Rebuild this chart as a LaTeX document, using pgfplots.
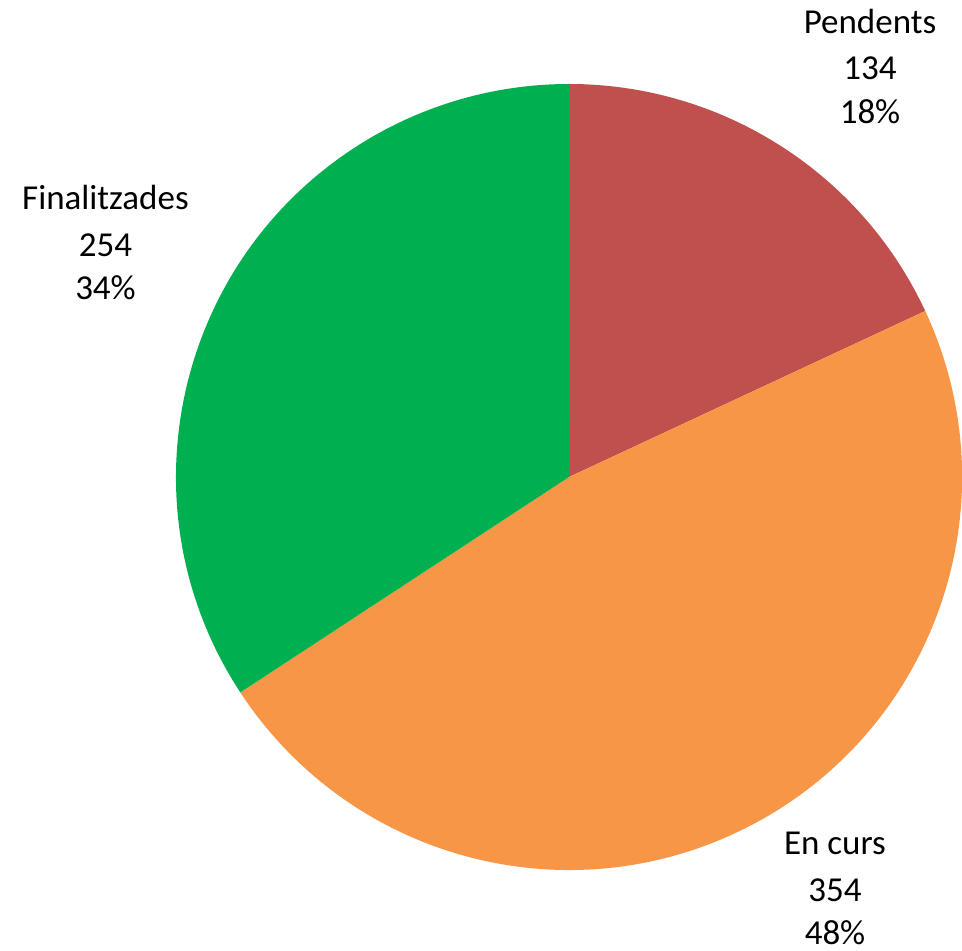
\documentclass[border=0pt]{standalone}
\usepackage{pgfplots}
\pgfplotsset{compat=1.18}
\usepackage{pgfplotstable}
\usepackage{fontspec}
\setmainfont{Carlito}
\definecolor{cPend}{HTML}{C0504D}
\definecolor{cCurs}{HTML}{F79646}
\definecolor{cFin}{HTML}{00B050}
\pgfplotstableread{
label value
Pendents 134
Encurs 354
Finalitzades 254
}\piedata
\pgfplotstablegetelem{0}{value}\of\piedata \let\vA\pgfplotsretval
\pgfplotstablegetelem{1}{value}\of\piedata \let\vB\pgfplotsretval
\pgfplotstablegetelem{2}{value}\of\piedata \let\vC\pgfplotsretval
\pgfmathsetmacro\tot{\vA+\vB+\vC}
\pgfmathsetmacro\aA{90}
\pgfmathsetmacro\aB{\aA-\vA/\tot*360}
\pgfmathsetmacro\aC{\aB-\vB/\tot*360}
\pgfmathsetmacro\aD{\aC-\vC/\tot*360}
\pgfmathtruncatemacro\pA{round(\vA/\tot*100)}
\pgfmathtruncatemacro\pB{round(\vB/\tot*100)}
\pgfmathtruncatemacro\pC{round(\vC/\tot*100)}
\begin{document}
\begin{tikzpicture}
\begin{axis}[x=1pt,y=1pt,xmin=0,xmax=962,ymin=0,ymax=951,hide axis,clip=false,
  scale only axis]
\def\R{393pt}
\fill[cPend] (axis cs:569,474) -- ++(\aA:\R) arc[start angle=\aA,end angle=\aB,radius=\R] -- cycle;
\fill[cCurs] (axis cs:569,474) -- ++(\aB:\R) arc[start angle=\aB,end angle=\aC,radius=\R] -- cycle;
\fill[cFin] (axis cs:569,474) -- ++(\aC:\R) arc[start angle=\aC,end angle=\aD,radius=\R] -- cycle;
\tikzset{lbl/.style={anchor=base,inner sep=0pt,font=\fontsize{35}{42}\selectfont}}
\node[lbl] at (axis cs:870,917) {Pendents};
\node[lbl] at (axis cs:870,871) {\vA};
\node[lbl] at (axis cs:870,827) {\pA\%};
\node[lbl] at (axis cs:105.5,741) {Finalitzades};
\node[lbl] at (axis cs:105.5,694) {\vC};
\node[lbl] at (axis cs:105.5,651) {\pC\%};
\node[lbl] at (axis cs:835,96) {En curs};
\node[lbl] at (axis cs:835,49) {\vB};
\node[lbl] at (axis cs:835,6) {\pB\%};
\coordinate (bbA) at (axis cs:0,0);
\coordinate (bbB) at (axis cs:962,951);
\end{axis}
\pgfresetboundingbox
\path[use as bounding box] (bbA) rectangle (bbB);
\end{tikzpicture}
\end{document}
